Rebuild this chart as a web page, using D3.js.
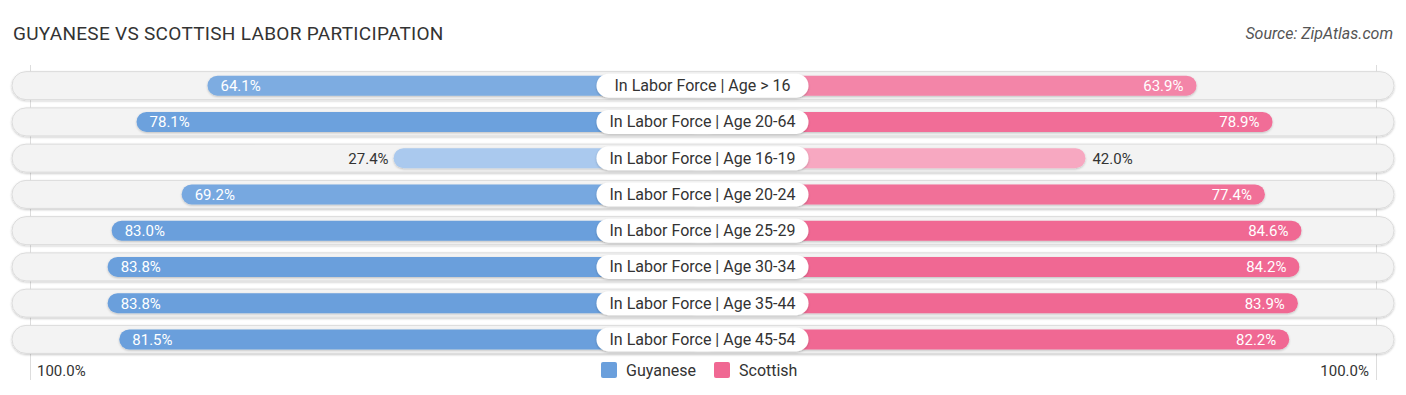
<!DOCTYPE html>
<html>
  <head>
    <meta http-equiv="Content-Type" content="text/html;charset=utf-8"/>
    <title>Guyanese vs Scottish Labor Participation</title>
    <script src="https://cdn.jsdelivr.net/npm/d3@7"></script>
    <style>
      body { margin: 0; background: #fff; }
      text { font-family: Roboto, "Open Sans", sans-serif; }
    </style>
  </head>
  <body>
    <svg id="target"></svg>
  </body>
  <script>
    var categories = [ "In Labor Force | Age > 16", "In Labor Force | Age 20-64", "In Labor Force | Age 16-19",
                       "In Labor Force | Age 20-24", "In Labor Force | Age 25-29", "In Labor Force | Age 30-34",
                       "In Labor Force | Age 35-44", "In Labor Force | Age 45-54" ];
    var guyanese = [ 64.1, 78.1, 27.4, 69.2, 83.0, 83.8, 83.8, 81.5 ];
    var scottish = [ 63.9, 78.9, 42.0, 77.4, 84.6, 84.2, 83.9, 82.2 ];
    var seriesNames = [ "Guyanese", "Scottish" ];
    var axisLabels = [ "100.0%", "100.0%" ];

    var width = 1406;
    var height = 395;
    var cx = 702.5;
    var halfGap = 170;
    var target = d3.select( "#target" ).attr( "width", width ).attr( "height", height );

    var defs = target.append( "defs" );
    var sh = defs.append( "filter" ).attr( "id", "sh" ).attr( "x", "-5%" ).attr( "y", "-40%" ).attr( "width", "110%" ).attr( "height", "180%" );
    sh.append( "feDropShadow" ).attr( "dx", 0 ).attr( "dy", 1 ).attr( "stdDeviation", 1.2 ).attr( "flood-color", "#000" ).attr( "flood-opacity", 0.22 );

    var yScale = d3.scaleBand().domain( categories ).range( [ 67.5, 357.5 ] );
    var lenScale = d3.scaleLinear().domain( [ 0, 100 ] ).range( [ 0, 507 ] );
    var blueCol = d3.scaleLinear().domain( [ 25, 80 ] ).range( [ "#adcbef", "#6a9fdc" ] ).clamp( true );
    var pinkCol = d3.scaleLinear().domain( [ 40, 82 ] ).range( [ "#f7abc3", "#f06893" ] ).clamp( true );

    // title + source
    target.append( "text" ).attr( "x", 13 ).attr( "y", 40 ).attr( "fill", "#333" )
      .style( "font-size", "19px" ).style( "letter-spacing", "0.3px" )
      .text( "GUYANESE VS SCOTTISH LABOR PARTICIPATION" );
    target.append( "text" ).attr( "x", 1393 ).attr( "y", 39 ).attr( "text-anchor", "end" ).attr( "fill", "#555" )
      .style( "font-size", "16px" ).style( "font-style", "italic" )
      .text( "Source: ZipAtlas.com" );

    // faint guide lines at 100%
    [ 30.5, 1376.5 ].forEach( function( x ) {
      target.append( "line" ).attr( "x1", x ).attr( "x2", x ).attr( "y1", 65 ).attr( "y2", 380 )
        .attr( "stroke", "#ddd" ).attr( "stroke-width", 1 );
    } );

    var rows = target.selectAll( "g.row" ).data( categories )
      .enter().append( "g" ).attr( "class", "row" )
        .attr( "transform", d => "translate(0," + ( yScale( d ) + yScale.bandwidth() / 2 ) + ")" );

    rows.append( "rect" )
      .attr( "x", 12 ).attr( "y", -14 ).attr( "width", 1382 ).attr( "height", 28 )
      .attr( "rx", 14 ).attr( "fill", "#f3f3f3" ).attr( "stroke", "#dcdcdc" ).attr( "stroke-width", 1 )
      .attr( "filter", "url(#sh)" );

    // left bars
    rows.append( "rect" )
      .attr( "x", ( d, i ) => cx - halfGap - lenScale( guyanese[i] ) )
      .attr( "y", -10 ).attr( "height", 20 )
      .attr( "width", ( d, i ) => halfGap + lenScale( guyanese[i] ) )
      .attr( "rx", 10 ).attr( "fill", ( d, i ) => blueCol( guyanese[i] ) )
      .attr( "filter", "url(#sh)" );

    // right bars
    rows.append( "rect" )
      .attr( "x", cx )
      .attr( "y", -10 ).attr( "height", 20 )
      .attr( "width", ( d, i ) => halfGap + lenScale( scottish[i] ) )
      .attr( "rx", 10 ).attr( "fill", ( d, i ) => pinkCol( scottish[i] ) )
      .attr( "filter", "url(#sh)" );

    // center labels
    rows.append( "rect" )
      .attr( "x", cx - 106 ).attr( "y", -12 ).attr( "width", 212 ).attr( "height", 24 )
      .attr( "rx", 12 ).attr( "fill", "#fff" ).attr( "filter", "url(#sh)" );
    rows.append( "text" )
      .attr( "x", cx ).attr( "y", 5.5 ).attr( "text-anchor", "middle" ).attr( "fill", "#333" )
      .style( "font-size", "16px" )
      .text( d => d );

    // value labels
    rows.append( "text" )
      .attr( "x", ( d, i ) => {
        var end = cx - halfGap - lenScale( guyanese[i] );
        return guyanese[i] > 40 ? end + 13 : end - 5;
      } )
      .attr( "y", 5.5 )
      .attr( "text-anchor", ( d, i ) => guyanese[i] > 40 ? "start" : "end" )
      .attr( "fill", ( d, i ) => guyanese[i] > 40 ? "#fff" : "#333" )
      .style( "font-size", "15px" )
      .text( ( d, i ) => guyanese[i].toFixed( 1 ) + "%" );
    rows.append( "text" )
      .attr( "x", ( d, i ) => {
        var end = cx + halfGap + lenScale( scottish[i] );
        return scottish[i] > 50 ? end - 13 : end + 7;
      } )
      .attr( "y", 5.5 )
      .attr( "text-anchor", ( d, i ) => scottish[i] > 50 ? "end" : "start" )
      .attr( "fill", ( d, i ) => scottish[i] > 50 ? "#fff" : "#333" )
      .style( "font-size", "15px" )
      .text( ( d, i ) => scottish[i].toFixed( 1 ) + "%" );

    // axis labels
    target.append( "text" ).attr( "x", 37 ).attr( "y", 376 ).attr( "fill", "#333" )
      .style( "font-size", "15px" ).text( axisLabels[0] );
    target.append( "text" ).attr( "x", 1369 ).attr( "y", 376 ).attr( "text-anchor", "end" ).attr( "fill", "#333" )
      .style( "font-size", "15px" ).text( axisLabels[1] );

    // legend
    var legendX = [ 601, 714 ];
    var legendCol = [ "#6a9fdc", "#f06893" ];
    var lg = target.selectAll( "g.legend" ).data( seriesNames )
      .enter().append( "g" ).attr( "class", "legend" )
        .attr( "transform", ( d, i ) => "translate(" + legendX[i] + ",362)" );
    lg.append( "rect" ).attr( "width", 16 ).attr( "height", 16 ).attr( "rx", 2 )
      .attr( "fill", ( d, i ) => legendCol[i] );
    lg.append( "text" ).attr( "x", 25 ).attr( "y", 14 ).attr( "fill", "#333" )
      .style( "font-size", "16px" ).text( d => d );
  </script>
</html>
